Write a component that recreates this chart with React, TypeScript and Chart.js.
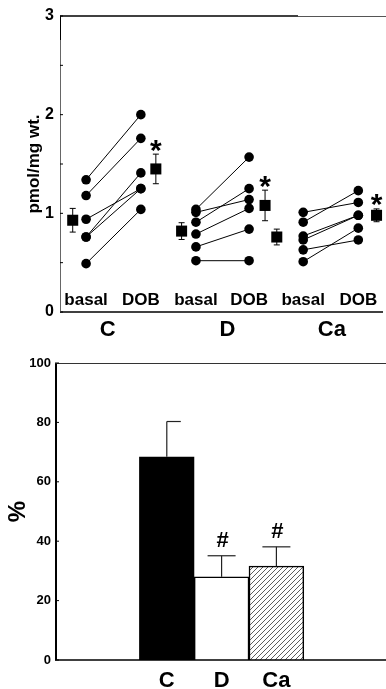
import React, { useEffect, useRef } from 'react';
import { Chart, registerables } from 'chart.js';

Chart.register(...registerables);

const FONT = '"Liberation Sans", Arial, Helvetica, sans-serif';

// ---------- top panel data ----------
const groups = ['C', 'D', 'Ca'];
const conditionLabels = ['basal', 'DOB'];
const basalC = [1.34, 1.18, 0.94, 0.76, 0.76, 0.49];
const dobC = [2.0, 1.76, 1.25, 1.41, 1.25, 1.04];
const basalD = [1.04, 1.01, 0.91, 0.79, 0.66, 0.52];
const dobD = [1.57, 1.14, 1.25, 1.05, 0.84, 0.52];
const basalCa = [1.01, 0.91, 0.77, 0.73, 0.63, 0.51];
const dobCa = [1.11, 1.23, 0.98, 0.98, 0.73, 0.85];
const meanBasal = [0.93, 0.82, 0.76];
const semBasal = [0.12, 0.085, 0.08];
const meanDob = [1.45, 1.08, 0.98];
const semDob = [0.15, 0.155, 0.065];
const dobSignificance = ['*', '*', '*'];
// x positions of the groups (category slots on a linear axis)
const basalX = [0.8, 4.17, 7.46];
const dobX = [2.48, 5.8, 9.15];
const meanBasalX = [0.39, 3.73, 6.65];
const meanDobX = [2.94, 6.29, 9.71];
const groupLabelX = [1.46, 5.14, 8.34];
const topYTickLabels = [0, 1, 2, 3];

// ---------- bottom panel data ----------
const barLabels = ['C', 'D', 'Ca'];
const barValues = [68.4, 28.0, 31.6];
const barSem = [11.9, 7.1, 6.5];
const barX = [2, 3, 4];
const barMarks = ['', '#', '#'];

const basalSets = [basalC, basalD, basalCa];
const dobSets = [dobC, dobD, dobCa];

function line(ctx: CanvasRenderingContext2D, x1: number, y1: number, x2: number, y2: number) {
  ctx.beginPath();
  ctx.moveTo(x1, y1);
  ctx.lineTo(x2, y2);
  ctx.stroke();
}

const topDecor = {
  id: 'topDecor',
  afterDatasetsDraw(chart: any) {
    const { ctx, chartArea: a, scales } = chart;
    const x = scales.x;
    const y = scales.y;
    ctx.save();
    // frame
    ctx.strokeStyle = '#000';
    ctx.lineWidth = 1.5;
    line(ctx, a.left, a.bottom, a.right - 3, a.bottom);
    line(ctx, a.left, a.top, a.left + 238, a.top);
    ctx.strokeStyle = '#555';
    ctx.lineWidth = 1;
    line(ctx, a.left + 238, a.top + 0.5, a.right, a.top + 0.5);
    ctx.strokeStyle = '#666';
    line(ctx, a.left + 0.5, a.top, a.left + 0.5, a.bottom);
    ctx.strokeStyle = '#000';
    line(ctx, a.left + 0.5, a.top, a.left + 0.5, a.top + 24);
    // inward ticks
    y.ticks.forEach((t: any) => {
      const py = y.getPixelForValue(t.value);
      line(ctx, a.left, py, a.left + 3, py);
    });
    // error bars
    ctx.strokeStyle = '#000';
    ctx.lineWidth = 1;
    const eb = (xv: number, m: number, s: number) => {
      const px = x.getPixelForValue(xv);
      const t = y.getPixelForValue(m + s);
      const b = y.getPixelForValue(m - s);
      line(ctx, px, t, px, b);
      line(ctx, px - 3, t, px + 3, t);
      line(ctx, px - 3, b, px + 3, b);
    };
    groups.forEach((_, i) => {
      eb(meanBasalX[i], meanBasal[i], semBasal[i]);
      eb(meanDobX[i], meanDob[i], semDob[i]);
    });
    // significance stars
    ctx.fillStyle = '#000';
    ctx.textAlign = 'center';
    ctx.textBaseline = 'alphabetic';
    ctx.font = `bold 30px ${FONT}`;
    groups.forEach((_, i) => {
      const px = x.getPixelForValue(meanDobX[i]);
      const cy = y.getPixelForValue(meanDob[i] + semDob[i]) - 12;
      ctx.fillText(dobSignificance[i], px, cy + 0.58 * 30);
    });
    // condition labels
    ctx.textBaseline = 'middle';
    ctx.font = `bold 17px ${FONT}`;
    groups.forEach((_, i) => {
      ctx.fillText(conditionLabels[0], x.getPixelForValue(basalX[i]), a.bottom - 12);
      ctx.fillText(conditionLabels[1], x.getPixelForValue(dobX[i]), a.bottom - 12);
    });
    // group labels
    ctx.font = `bold 22px ${FONT}`;
    groups.forEach((g, i) => {
      ctx.fillText(g, x.getPixelForValue(groupLabelX[i]), a.bottom + 18);
    });
    ctx.restore();
  },
};

const bottomDecor = {
  id: 'bottomDecor',
  afterDatasetsDraw(chart: any) {
    const { ctx, chartArea: a, scales } = chart;
    const x = scales.x;
    const y = scales.y;
    ctx.save();
    ctx.strokeStyle = '#000';
    ctx.lineWidth = 2;
    line(ctx, a.left + 1, a.top, a.left + 1, a.bottom);
    ctx.lineWidth = 1.5;
    line(ctx, a.left, a.bottom, a.right, a.bottom);
    ctx.lineWidth = 1;
    ctx.strokeStyle = '#333';
    line(ctx, a.left, a.top + 0.5, a.right, a.top + 0.5);
    ctx.strokeStyle = '#000';
    y.ticks.forEach((t: any) => {
      const py = y.getPixelForValue(t.value);
      line(ctx, a.left, py, a.left + 4, py);
    });
    // error bars
    ctx.strokeStyle = '#222';
    ctx.lineWidth = 1.2;
    const capLeft = [0, 14, 14];
    ctx.fillStyle = '#000';
    ctx.textAlign = 'center';
    ctx.textBaseline = 'middle';
    barValues.forEach((v, i) => {
      const px = x.getPixelForValue(barX[i]);
      const top = y.getPixelForValue(v);
      const et = y.getPixelForValue(v + barSem[i]);
      line(ctx, px, top, px, et);
      line(ctx, px - capLeft[i], et, px + 14, et);
      if (barMarks[i]) {
        ctx.font = `bold 22px ${FONT}`;
        ctx.fillText(barMarks[i], px + 1, et - 14.5);
      }
    });
    ctx.font = `bold 22px ${FONT}`;
    barLabels.forEach((l, i) => {
      ctx.fillText(l, x.getPixelForValue(barX[i]), a.bottom + 21);
    });
    ctx.restore();
  },
};

export default function App() {
  const topRef = useRef<HTMLCanvasElement>(null);
  const botRef = useRef<HTMLCanvasElement>(null);

  useEffect(() => {
    const pairDatasets: any[] = [];
    groups.forEach((_, g) => {
      basalSets[g].forEach((b, k) => {
        pairDatasets.push({
          data: [
            { x: basalX[g], y: b },
            { x: dobX[g], y: dobSets[g][k] },
          ],
          showLine: true,
          borderColor: '#000',
          borderWidth: 1,
          pointRadius: 4.8,
          pointBackgroundColor: '#000',
          pointBorderWidth: 0,
        });
      });
    });
    const meanData: any[] = [];
    groups.forEach((_, g) => {
      meanData.push({ x: meanBasalX[g], y: meanBasal[g] });
      meanData.push({ x: meanDobX[g], y: meanDob[g] });
    });
    pairDatasets.push({
      data: meanData,
      showLine: false,
      pointStyle: 'rect',
      pointRadius: 7.8,
      pointBackgroundColor: '#000',
      pointBorderWidth: 0,
    });

    const top = new Chart(topRef.current!, {
      type: 'scatter',
      data: { datasets: pairDatasets },
      options: {
        animation: false,
        responsive: false,
        devicePixelRatio: 1,
        layout: { autoPadding: false, padding: { top: 16, bottom: 28, left: 0, right: 0 } },
        plugins: { legend: { display: false }, tooltip: { enabled: false } },
        scales: {
          x: { type: 'linear', min: 0, max: 10, display: false },
          y: {
            type: 'linear',
            min: 0,
            max: 3,
            grid: { display: false, drawTicks: false },
            border: { display: false },
            ticks: {
              stepSize: 0.5,
              padding: 6,
              color: '#000',
              font: { family: FONT, size: 16, weight: 'bold' },
              callback: (v: any) => (topYTickLabels.includes(Number(v)) ? String(v) : ''),
            },
            title: {
              display: true,
              text: 'pmol/mg wt.',
              color: '#000',
              font: { family: FONT, size: 17, weight: 'bold' },
              padding: { top: 24, bottom: 0 },
            },
            afterFit: (s: any) => {
              s.width = 60;
            },
          },
        },
      },
      plugins: [topDecor],
    });

    const pc = document.createElement('canvas');
    pc.width = 5;
    pc.height = 5;
    const p = pc.getContext('2d')!;
    p.fillStyle = '#fff';
    p.fillRect(0, 0, 5, 5);
    p.strokeStyle = '#333';
    p.lineWidth = 0.8;
    p.beginPath();
    p.moveTo(0, 5);
    p.lineTo(5, 0);
    p.moveTo(-1, 1);
    p.lineTo(1, -1);
    p.moveTo(4, 6);
    p.lineTo(6, 4);
    p.stroke();
    const bctx = botRef.current!.getContext('2d')!;
    const hatch = bctx.createPattern(pc, 'repeat');

    const bottom = new Chart(botRef.current!, {
      type: 'bar',
      data: {
        datasets: [
          {
            data: barValues.map((v, i) => ({ x: barX[i], y: v })),
            backgroundColor: ['#000', '#fff', hatch as any],
            borderColor: '#000',
            borderWidth: 1.5,
            barPercentage: 1,
            categoryPercentage: 1,
          },
        ],
      },
      options: {
        animation: false,
        responsive: false,
        devicePixelRatio: 1,
        layout: { autoPadding: false, padding: { top: 23, bottom: 29, left: 0, right: 0 } },
        plugins: { legend: { display: false }, tooltip: { enabled: false } },
        scales: {
          x: { type: 'linear', min: -0.04, max: 6, offset: false, display: false },
          y: {
            type: 'linear',
            min: 0,
            max: 100,
            grid: { display: false, drawTicks: false },
            border: { display: false },
            ticks: {
              stepSize: 20,
              padding: 4,
              color: '#000',
              font: { family: FONT, size: 13, weight: 'bold' },
            },
            title: {
              display: true,
              text: '%',
              color: '#000',
              font: { family: FONT, size: 24, weight: 'bold' },
              padding: { top: 4, bottom: 0 },
            },
            afterFit: (s: any) => {
              s.width = 55;
            },
          },
        },
      },
      plugins: [bottomDecor],
    });

    return () => {
      top.destroy();
      bottom.destroy();
    };
  }, []);

  return (
    <div style={{ position: 'absolute', left: 0, top: 0, width: 386, height: 689, background: '#fff' }}>
      <canvas ref={topRef} width={386} height={340} style={{ display: 'block', width: 386, height: 340 }} />
      <canvas ref={botRef} width={386} height={349} style={{ display: 'block', width: 386, height: 349 }} />
    </div>
  );
}
